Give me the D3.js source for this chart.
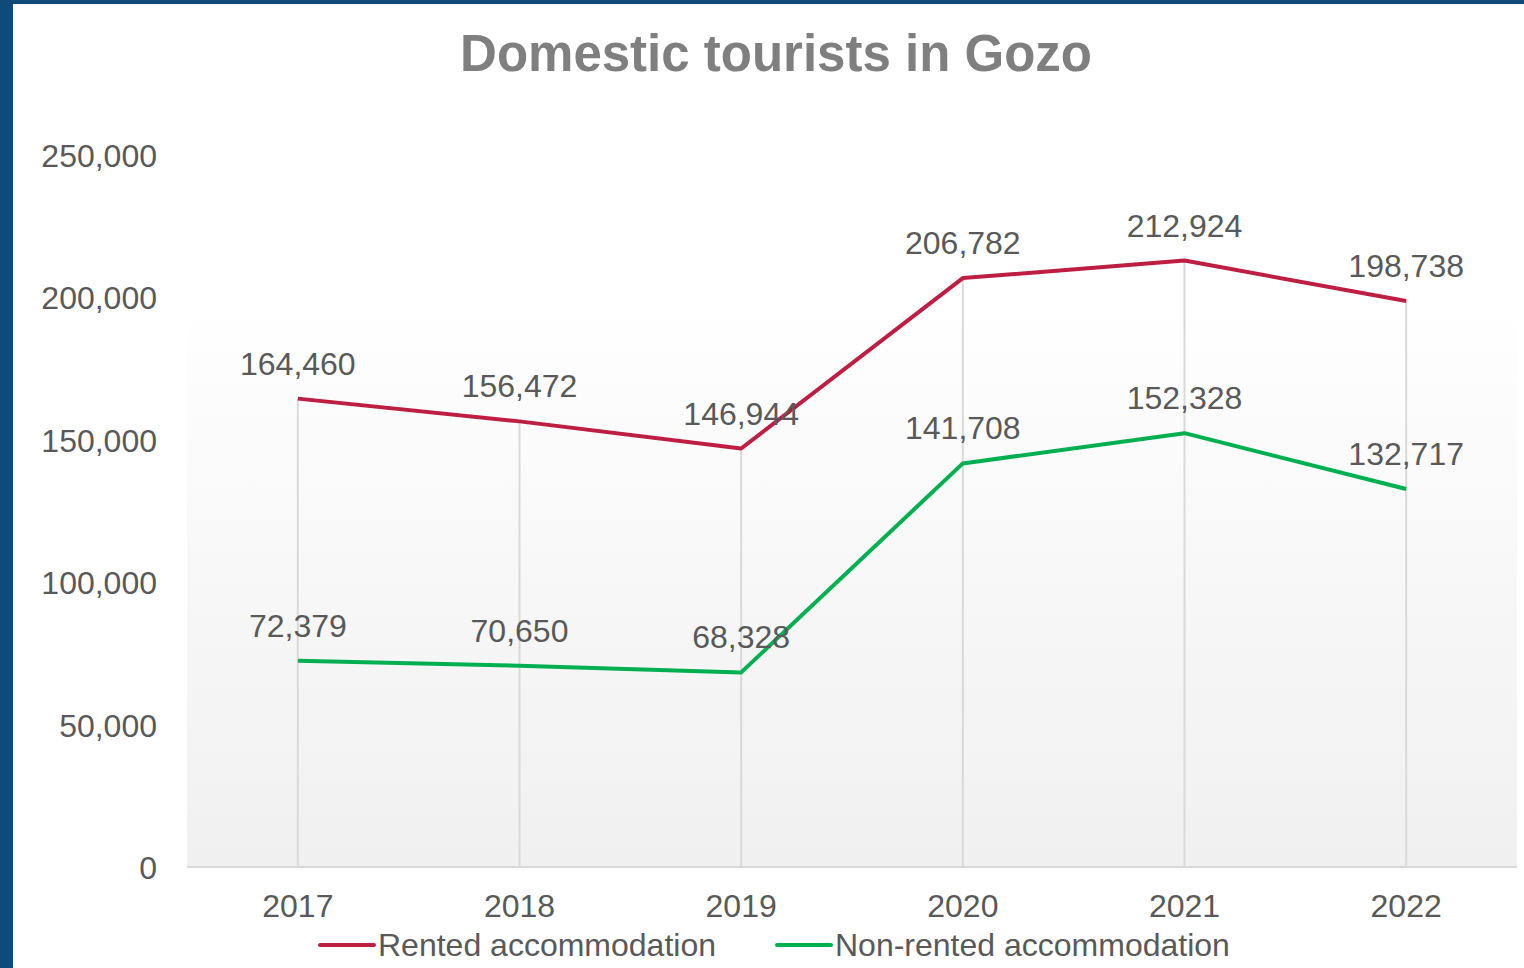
<!DOCTYPE html>
<html>
<head>
<meta charset="utf-8">
<script src="https://cdn.jsdelivr.net/npm/d3@7"></script>
<style>
  body { margin: 0; background: #0f4a78; }
  svg { display: block; }
  text { font-family: "Liberation Sans", Arial, sans-serif; fill: #595959; }
</style>
</head>
<body>
<div id="chart"></div>
<script>
const years = ["2017", "2018", "2019", "2020", "2021", "2022"]
const rented = [164460, 156472, 146944, 206782, 212924, 198738]
const nonRented = [72379, 70650, 68328, 141708, 152328, 132717]
const yTicks = [0, 50000, 100000, 150000, 200000, 250000]

const series = [
    { name: "Rented accommodation", values: rented, color: "#be1e42" },
    { name: "Non-rented accommodation", values: nonRented, color: "#00b050" }
]

const W = 1524, H = 968
const plot = { left: 187, right: 1517, top: 155, bottom: 867 }

const svg = d3.select("#chart").append("svg")
    .attr("width", W).attr("height", H)

// blue frame + white card
svg.append("rect").attr("width", W).attr("height", H).attr("fill", "#0f4a78")
svg.append("rect").attr("x", 13).attr("y", 4).attr("width", W - 13).attr("height", H - 4).attr("fill", "#ffffff")

const defs = svg.append("defs")
const grad = defs.append("linearGradient").attr("id", "bg")
    .attr("x1", 0).attr("y1", 0).attr("x2", 0).attr("y2", 1)
grad.append("stop").attr("offset", "0%").attr("stop-color", "#ffffff")
grad.append("stop").attr("offset", "20%").attr("stop-color", "#ffffff")
grad.append("stop").attr("offset", "100%").attr("stop-color", "#f0f0f0")

const x = d3.scaleBand().domain(years).range([plot.left, plot.right])
const y = d3.scaleLinear().domain([0, 250000]).range([plot.bottom, plot.top])
const cx = d => x(d) + x.bandwidth() / 2

svg.append("rect")
    .attr("x", plot.left).attr("y", plot.top)
    .attr("width", plot.right - plot.left).attr("height", plot.bottom - plot.top)
    .attr("fill", "url(#bg)")

// title
svg.append("text")
    .attr("x", 776).attr("y", 71)
    .attr("text-anchor", "middle")
    .style("font-size", "51px").style("font-weight", "bold").style("fill", "#7f7f7f")
    .text("Domestic tourists in Gozo")

// drop lines
svg.append("g").selectAll("line")
    .data(years)
    .enter().append("line")
    .attr("x1", d => cx(d)).attr("x2", d => cx(d))
    .attr("y1", (d, i) => y(Math.max(rented[i], nonRented[i])))
    .attr("y2", plot.bottom)
    .attr("stroke", "#d9d9d9").attr("stroke-width", 2)

// y axis labels
const yAxis = svg.append("g")
    .attr("transform", "translate(" + (plot.left - 30) + ",0)")
    .call(d3.axisLeft(y).tickValues(yTicks).tickFormat(d3.format(",")).tickSize(0).tickPadding(0))
yAxis.select(".domain").remove()
yAxis.selectAll("text").style("font-size", "32px").attr("fill", null).attr("dy", "0.36em")

// x axis
const xAxis = svg.append("g")
    .attr("transform", "translate(0," + plot.bottom + ")")
    .call(d3.axisBottom(x).tickSize(0).tickPadding(0))
xAxis.select(".domain").attr("stroke", "#d9d9d9").attr("stroke-width", 2)
    .attr("d", "M" + plot.left + ",0H" + plot.right)
xAxis.selectAll("text").style("font-size", "32px").attr("fill", null).attr("dy", null).attr("y", 50)

// lines
const line = d3.line().x((d, i) => cx(years[i])).y(d => y(d))
series.forEach(s => {
    svg.append("path")
        .datum(s.values)
        .attr("d", line)
        .attr("fill", "none")
        .attr("stroke", s.color)
        .attr("stroke-width", 4)
        .attr("stroke-linejoin", "round")

    svg.append("g").selectAll("text")
        .data(s.values)
        .enter().append("text")
        .attr("x", (d, i) => cx(years[i]))
        .attr("y", d => y(d) - 24)
        .attr("text-anchor", "middle")
        .style("font-size", "32px")
        .text(d => d3.format(",")(d))
})

// legend
const legendPos = [320, 777]
series.forEach((s, i) => {
    const g = svg.append("g").attr("transform", "translate(" + legendPos[i] + ",945)")
    g.append("line").attr("x1", 0).attr("x2", 54).attr("stroke", s.color)
        .attr("stroke-width", 4).attr("stroke-linecap", "round")
    g.append("text").attr("x", 58).attr("y", 11)
        .style("font-size", "32px")
        .text(s.name)
})
</script>
</body>
</html>
